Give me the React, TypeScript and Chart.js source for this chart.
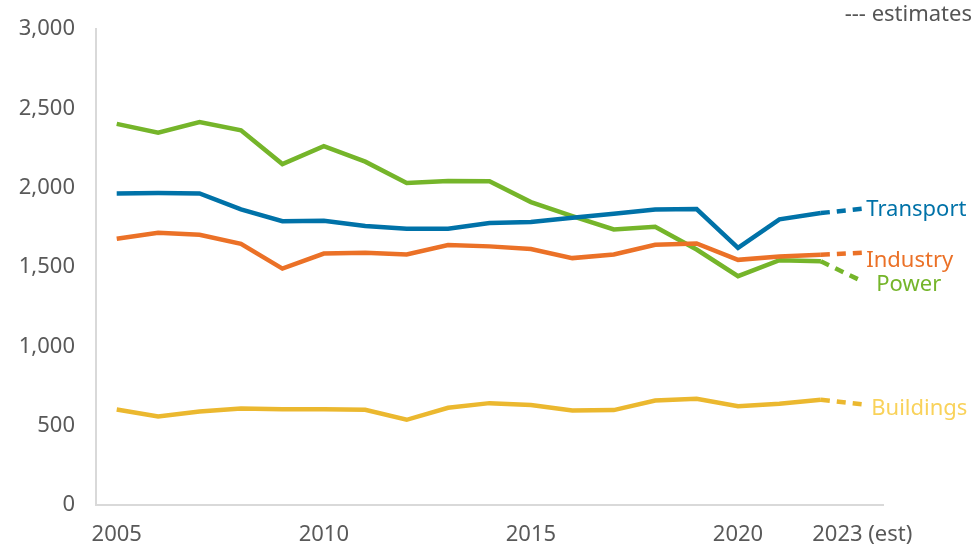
import { useEffect, useRef } from 'react'
import { Chart, registerables } from 'chart.js'

Chart.register(...registerables)

const years = [
  '2005', '2006', '2007', '2008', '2009', '2010', '2011', '2012', '2013', '2014',
  '2015', '2016', '2017', '2018', '2019', '2020', '2021', '2022', '2023 (est)',
]
const shownYears = ['2005', '2010', '2015', '2020', '2023 (est)']

const transport = [1964, 1966, 1964, 1863, 1789, 1792, 1758, 1741, 1741, 1777, 1783, 1811, 1836, 1863, 1865, 1621, 1800, 1840, 1867]
const industry = [1678, 1716, 1703, 1646, 1490, 1585, 1590, 1579, 1638, 1630, 1613, 1556, 1579, 1640, 1648, 1545, 1566, 1577, 1590]
const power = [2402, 2347, 2413, 2362, 2149, 2261, 2164, 2029, 2042, 2040, 1909, 1821, 1737, 1754, 1610, 1442, 1543, 1536, 1410]
const buildings = [602, 558, 589, 608, 604, 604, 600, 537, 613, 642, 630, 596, 598, 659, 669, 623, 638, 663, 634]

const FONT = '"Noto Sans", "Open Sans", sans-serif'

// end-of-line labels: dataset index, colour, offset from last point
const endLabels = [
  { text: 'Transport', color: '#0072a8', dx: 4, dy: 1 },
  { text: 'Industry', color: '#eb7127', dx: 4, dy: 8 },
  { text: 'Power', color: '#75b52a', dx: 14, dy: 3 },
  { text: 'Buildings', color: '#f9d25a', dx: 9, dy: 4 },
]

const labelPlugin = {
  id: 'endLabels',
  afterDatasetsDraw(chart: Chart) {
    const ctx = chart.ctx
    ctx.save()
    ctx.font = `22px ${FONT}`
    ctx.textBaseline = 'middle'
    ctx.textAlign = 'left'
    endLabels.forEach((l, i) => {
      const meta = chart.getDatasetMeta(i)
      const pt = meta.data[meta.data.length - 1]
      ctx.fillStyle = l.color
      ctx.fillText(l.text, pt.x + l.dx, pt.y + l.dy)
    })
    ctx.fillStyle = '#555555'
    ctx.textAlign = 'right'
    ctx.fillText('--- estimates', 972, 15)
    ctx.restore()
  },
}

export default function App() {
  const canvasRef = useRef<HTMLCanvasElement>(null)
  const chartRef = useRef<Chart | null>(null)

  useEffect(() => {
    document.body.style.margin = '0'
    if (!canvasRef.current) return
    if (chartRef.current) chartRef.current.destroy()

    const dashLast = (color: string) => ({
      borderColor: color,
      borderWidth: 4.5,
      pointRadius: 0,
      tension: 0,
      segment: {
        borderDash: (c: any) => (c.p1DataIndex === years.length - 1 ? [9, 7] : undefined),
      },
    })

    chartRef.current = new Chart(canvasRef.current, {
      type: 'line',
      data: {
        labels: years,
        datasets: [
          { label: 'Transport', data: transport, ...dashLast('#0072a8') },
          { label: 'Industry', data: industry, ...dashLast('#eb7127') },
          { label: 'Power', data: power, ...dashLast('#75b52a') },
          { label: 'Buildings', data: buildings, ...dashLast('#ebb82f') },
        ],
      },
      options: {
        animation: false,
        responsive: true,
        maintainAspectRatio: false,
        layout: { padding: { top: 29, right: 97, left: 0, bottom: 0 } },
        plugins: {
          legend: { display: false },
          tooltip: { enabled: false },
        },
        scales: {
          x: {
            offset: true,
            grid: { display: false },
            border: { display: true, color: '#d9d9d9', width: 2 },
            ticks: {
              autoSkip: false,
              maxRotation: 0,
              padding: 9,
              color: '#595959',
              font: { family: FONT, size: 22 },
              callback: (_v, i) => (shownYears.includes(years[i]) ? years[i] : ''),
            },
            afterFit: (axis: any) => {
              axis.height = 50
            },
          },
          y: {
            min: 0,
            max: 3000,
            grid: { display: false },
            border: { display: true, color: '#d9d9d9', width: 2 },
            ticks: {
              stepSize: 500,
              padding: 13,
              color: '#595959',
              font: { family: FONT, size: 22 },
              callback: (v) => Number(v).toLocaleString('en-US'),
            },
            afterFit: (axis: any) => {
              axis.width = 96
            },
          },
        },
      },
      plugins: [labelPlugin],
    })

    return () => {
      if (chartRef.current) {
        chartRef.current.destroy()
        chartRef.current = null
      }
    }
  }, [])

  return (
    <div style={{ width: '980px', height: '555px', position: 'relative' }}>
      <canvas ref={canvasRef}></canvas>
    </div>
  )
}
